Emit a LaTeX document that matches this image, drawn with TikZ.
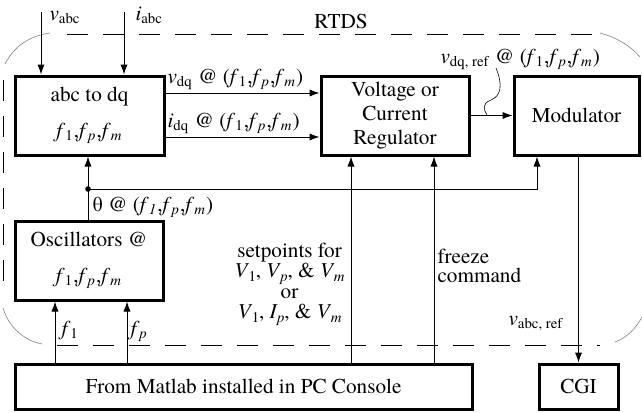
\documentclass[tikz,border=0pt]{standalone}
\usepackage{fontspec}
\setmainfont{texgyretermes}[Extension=.otf,UprightFont=*-regular,ItalicFont=*-italic,BoldFont=*-bold,BoldItalicFont=*-bolditalic]
\usetikzlibrary{arrows.meta}
\newcommand\fv[1]{\textit{f}\textsubscript{#1}}
\newcommand\fset{(\fv{1},\fv{\textit{p}},\fv{\textit{m}})}
\newcommand\sub[2]{#1\kern-0.3pt\textsubscript{#2}\kern-0.6pt}
\begin{document}
\begin{tikzpicture}[x=0.5pt,y=-0.5pt,
  box/.style={draw,line width=1.5pt,inner sep=0pt,align=center,font=\fontsize{10.6}{12.7}\selectfont},
  lbl/.style={inner sep=0pt,font=\fontsize{10.6}{12.7}\selectfont},
  arr/.style={-{Latex[length=5pt,width=3.6pt]}},
  every path/.style={line width=0.5pt}]
\useasboundingbox (0,0) rectangle (642,412);
% RTDS boundary
\draw[dash pattern=on 10.5pt off 7.5pt] (67,34) -- (600,34);
\draw[dash pattern=on 10.5pt off 7.5pt] (3,80) -- (3,292);
\draw[dash pattern=on 10.5pt off 7.5pt] (57,345) -- (600,345);
\draw[line width=0.3pt,gray] (5,64) .. controls (15,45) and (30,36) .. (50,33);
\draw[line width=0.3pt,gray] (3,308) .. controls (8,325) and (22,340) .. (42,344);
\draw[line width=0.3pt,gray] (600,33) .. controls (615,37) and (630,45) .. (640,57);
\draw[line width=0.3pt,gray] (615,342) .. controls (628,337) and (636,328) .. (642,317);
\node[lbl,anchor=base] (rtds) at (341,28) {RTDS};
% boxes
\node[box,minimum width=149*0.5pt,minimum height=79*0.5pt] (abc) at (89.5,115.5)
  {abc to dq\\[5.3pt]\fv{1},\fv{\textit{p}},\fv{\textit{m}}};
\node[box,minimum width=148*0.5pt,minimum height=79*0.5pt,font=\fontsize{10.6}{11.8}\selectfont] (reg) at (395,115.5)
  {Voltage or\\Current\\Regulator};
\node[box,minimum width=125*0.5pt,minimum height=79*0.5pt] (mod) at (576.5,115.5) {Modulator};
\node[box,minimum width=148*0.5pt,minimum height=79*0.5pt] (osc) at (89,260.5)
  {Oscillators @\\[5.3pt]\fv{1},\fv{\textit{p}},\fv{\textit{m}}};
\node[box,minimum width=457*0.5pt,minimum height=45*0.5pt] (matlab) at (243.5,386.5)
  {From Matlab installed in PC Console};
\node[box,minimum width=79*0.5pt,minimum height=45*0.5pt] (cgi) at (578.5,386.5) {CGI};
% inputs
\coordinate (vin) at (41,12);
\coordinate (iin) at (124,12);
\draw[arr] (vin) -- (vin |- abc.north);
\draw[arr] (iin) -- (iin |- abc.north);
\node[lbl,anchor=base west] (vabc) at (49,20) {\textit{v}\textsubscript{abc}};
\node[lbl,anchor=base west] (iabc) at (135,20) {\textit{i}\textsubscript{abc}};
% dq signals
\coordinate (yv) at (0,93);
\coordinate (yi) at (0,137);
\draw[arr] (abc.east |- yv) -- (reg.west |- yv);
\draw[arr] (abc.east |- yi) -- (reg.west |- yi);
\node[lbl,anchor=base west] (vdq) at (167,83) {\textit{v}\textsubscript{dq} @ \fset};
\node[lbl,anchor=base west] (idq) at (167,127) {\textit{i}\textsubscript{dq} @ \fset};
% regulator to modulator
\draw[arr] (reg.east) -- (mod.west);
\node[lbl,anchor=base west] (vref) at (440,63) {\textit{v}\textsubscript{dq, ref} @ \fset};
\coordinate (lead) at (496,68);
\coordinate (leadend) at (487,115);
\draw[line width=0.3pt] (lead) .. controls (503,85) and (501,96) .. (491,100)
  .. controls (481,104) and (484,110) .. (leadend);
% theta
\coordinate (j) at (88,189);
\coordinate (tx) at (537,189);
\draw[arr] (j) -- (j |- abc.south);
\draw[arr] (j) -- (tx) -- (tx |- mod.south);
\draw (j) -- (j |- osc.north);
\fill (j) circle[radius=1.4pt];
\node[lbl,anchor=base west] (theta) at (92,211) {θ @ (\fv{\textit{1}},\fv{\textit{p}},\fv{\textit{m}})};
% from matlab
\coordinate (xf1) at (55,0);
\coordinate (xfp) at (127,0);
\coordinate (xsp) at (351,0);
\coordinate (xfz) at (434,0);
\draw[arr] (xf1 |- matlab.north) -- (xf1 |- osc.south);
\draw[arr] (xfp |- matlab.north) -- (xfp |- osc.south);
\draw[arr] (xsp |- matlab.north) -- (xsp |- reg.south);
\draw[arr] (xfz |- matlab.north) -- (xfz |- reg.south);
\node[lbl,anchor=base west] (f1) at (61,335) {\fv{1}};
\node[lbl,anchor=base west] (fp) at (130,335) {\fv{\textit{p}}};
\node[lbl,align=center,anchor=east,font=\fontsize{10.6}{10.3}\selectfont] (sp) at (345,284)
  {setpoints for\\\sub{\textit{V}}{1}, \sub{\textit{V}}{\textit{p}}, \& \sub{\textit{V}}{\textit{m}}\\or\\\sub{\textit{V}}{1}, \sub{\textit{I}}{\textit{p}}, \& \sub{\textit{V}}{\textit{m}}};
\node[lbl,align=left,anchor=west,font=\fontsize{10.6}{9.8}\selectfont] (fz) at (437,266) {freeze\\command};
% modulator to CGI
\draw[arr] (cgi.north |- mod.south) -- (cgi.north);
\node[lbl,anchor=base west] (vabcref) at (508,325) {\textit{v}\textsubscript{abc, ref}};
\end{tikzpicture}
\end{document}
